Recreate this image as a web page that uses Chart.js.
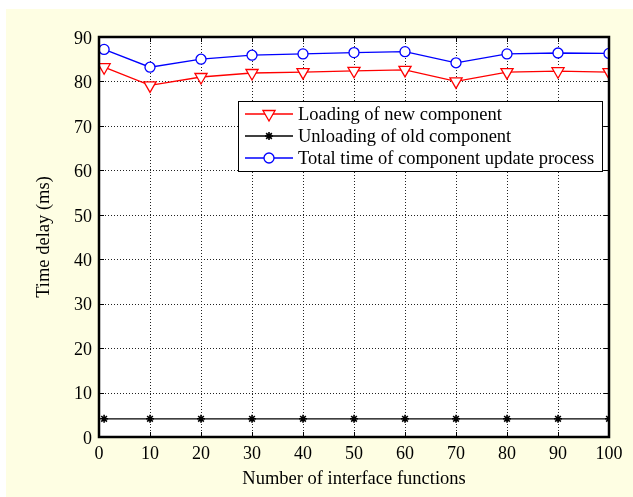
<!DOCTYPE html>
<html><head><meta charset="utf-8">
<script src="https://cdn.jsdelivr.net/npm/chart.js@4/dist/chart.umd.min.js"></script>
<style>html,body{margin:0;padding:0;background:#fff;overflow:hidden;}</style>
</head><body>
<canvas id="c" width="633" height="497" style="display:block;width:633px;height:497px"></canvas>
<script>
const xValues = [1, 10, 20, 30, 40, 50, 60, 70, 80, 90, 100];
const loadingNew = [83.2, 79.1, 81.0, 81.9, 82.1, 82.4, 82.6, 80.0, 82.1, 82.3, 82.1];
const unloadingOld = [4.1, 4.1, 4.1, 4.1, 4.1, 4.1, 4.1, 4.1, 4.1, 4.1, 4.1];
const totalTime = [87.2, 83.2, 85.0, 85.9, 86.2, 86.5, 86.7, 84.2, 86.2, 86.4, 86.3];
const xTicks = [0, 10, 20, 30, 40, 50, 60, 70, 80, 90, 100];
const yTicks = [0, 10, 20, 30, 40, 50, 60, 70, 80, 90];
const seriesNames = ['Loading of new component', 'Unloading of old component', 'Total time of component update process'];

const FONT = '"Liberation Serif", "Times New Roman", serif';
const BG = '#FEFEE3';

function pts(ys) { return xValues.map((x, i) => ({x: x, y: ys[i]})); }

function drawMarker(ctx, style, x, y, color) {
  ctx.save();
  ctx.strokeStyle = color; ctx.lineWidth = 1.3;
  ctx.beginPath();
  if (style === 'tri') {
    const r = 7;
    ctx.moveTo(x - r * 0.866, y - r * 0.5);
    ctx.lineTo(x + r * 0.866, y - r * 0.5);
    ctx.lineTo(x, y + r);
    ctx.closePath();
    ctx.fillStyle = '#fff'; ctx.fill();
  } else if (style === 'circ') {
    ctx.arc(x, y, 5, 0, Math.PI * 2);
    ctx.fillStyle = '#fff'; ctx.fill();
  } else {
    const r = 4;
    ctx.lineWidth = 1.6;
    ctx.moveTo(x - r, y); ctx.lineTo(x + r, y);
    ctx.moveTo(x, y - r); ctx.lineTo(x, y + r);
    const d = r * 0.707;
    ctx.moveTo(x - d, y - d); ctx.lineTo(x + d, y + d);
    ctx.moveTo(x - d, y + d); ctx.lineTo(x + d, y - d);
  }
  ctx.stroke();
  ctx.restore();
}

const framePlugin = {
  id: 'frame',
  beforeDraw(chart) {
    const ctx = chart.ctx;
    ctx.save();
    ctx.fillStyle = '#fff'; ctx.fillRect(0, 0, chart.width, chart.height);
    ctx.fillStyle = BG; ctx.fillRect(6, 9, chart.width - 6, chart.height - 9);
    const a = chart.chartArea;
    ctx.fillStyle = '#fff'; ctx.fillRect(a.left, a.top, a.right - a.left, a.bottom - a.top);
    ctx.restore();
  },
  beforeDatasetsDraw(chart) {
    const ctx = chart.ctx, a = chart.chartArea, sx = chart.scales.x, sy = chart.scales.y;
    ctx.save();
    ctx.strokeStyle = '#222'; ctx.lineWidth = 1; ctx.setLineDash([1, 2]);
    xTicks.forEach(v => {
      const px = Math.round(sx.getPixelForValue(v)) + 0.5;
      ctx.beginPath(); ctx.moveTo(px, a.top); ctx.lineTo(px, a.bottom); ctx.stroke();
    });
    yTicks.forEach(v => {
      const py = Math.round(sy.getPixelForValue(v)) + 0.5;
      ctx.beginPath(); ctx.moveTo(a.left, py); ctx.lineTo(a.right, py); ctx.stroke();
    });
    ctx.restore();
  },
  afterDatasetsDraw(chart) {
    const ctx = chart.ctx, a = chart.chartArea, sx = chart.scales.x, sy = chart.scales.y;
    ctx.save();
    ctx.strokeStyle = '#000'; ctx.lineWidth = 1;
    const tl = 5;
    xTicks.forEach(v => {
      const px = Math.round(sx.getPixelForValue(v)) + 0.5;
      ctx.beginPath();
      ctx.moveTo(px, a.bottom); ctx.lineTo(px, a.bottom - tl);
      ctx.moveTo(px, a.top); ctx.lineTo(px, a.top + tl);
      ctx.stroke();
    });
    yTicks.forEach(v => {
      const py = Math.round(sy.getPixelForValue(v)) + 0.5;
      ctx.beginPath();
      ctx.moveTo(a.left, py); ctx.lineTo(a.left + tl, py);
      ctx.moveTo(a.right, py); ctx.lineTo(a.right - tl, py);
      ctx.stroke();
    });
    ctx.lineWidth = 2.5;
    ctx.strokeRect(a.left, a.top, a.right - a.left, a.bottom - a.top);
    ctx.restore();
  },
  afterDraw(chart) {
    const ctx = chart.ctx;
    const bx = 238, by = 101, bw = 364, bh = 70;
    ctx.save();
    ctx.fillStyle = '#fff'; ctx.fillRect(bx, by, bw, bh);
    ctx.strokeStyle = '#000'; ctx.lineWidth = 1;
    ctx.strokeRect(bx + 0.5, by + 0.5, bw, bh);
    const rows = [114, 136, 158];
    const colors = ['#FF0000', '#000000', '#0000FF'];
    const styles = ['tri', 'star', 'circ'];
    ctx.font = '18.5px ' + FONT;
    ctx.textBaseline = 'middle'; ctx.textAlign = 'left';
    rows.forEach((y, i) => {
      ctx.strokeStyle = colors[i]; ctx.lineWidth = 1.3;
      ctx.beginPath(); ctx.moveTo(245, y); ctx.lineTo(293, y); ctx.stroke();
      drawMarker(ctx, styles[i], 269, y, colors[i]);
      ctx.fillStyle = '#000';
      ctx.fillText(seriesNames[i], 298, y + 1);
    });
    ctx.restore();
  }
};

new Chart(document.getElementById('c'), {
  type: 'line',
  data: {
    datasets: [
      {label: seriesNames[0], data: pts(loadingNew), borderColor: '#FF0000', backgroundColor: '#fff',
       borderWidth: 1.3, pointStyle: 'triangle', rotation: 180, pointRadius: 7, pointBorderWidth: 1.3, fill: false, tension: 0},
      {label: seriesNames[1], data: pts(unloadingOld), borderColor: '#000000', backgroundColor: '#000',
       borderWidth: 1.3, pointStyle: 'star', pointRadius: 4, pointBorderWidth: 1.6, fill: false, tension: 0},
      {label: seriesNames[2], data: pts(totalTime), borderColor: '#0000FF', backgroundColor: '#fff',
       borderWidth: 1.3, pointStyle: 'circle', pointRadius: 5, pointBorderWidth: 1.3, fill: false, tension: 0}
    ]
  },
  options: {
    responsive: false, animation: false,
    layout: {padding: {top: 37, right: 24, left: 0, bottom: 0}},
    plugins: {legend: {display: false}, tooltip: {enabled: false}},
    scales: {
      x: {
        type: 'linear', min: 0, max: 100,
        afterBuildTicks(s) { s.ticks = xTicks.map(v => ({value: v})); },
        afterFit(s) { s.height = 60; },
        grid: {display: false, drawTicks: false}, border: {display: false},
        ticks: {color: '#000', font: {family: FONT, size: 18}, padding: 6, maxRotation: 0},
        title: {display: true, text: 'Number of interface functions', color: '#000', font: {family: FONT, size: 18.5}, padding: {top: 0, bottom: 7}}
      },
      y: {
        type: 'linear', min: 0, max: 90,
        afterBuildTicks(s) { s.ticks = yTicks.map(v => ({value: v})); },
        afterFit(s) { s.width = 99; },
        grid: {display: false, drawTicks: false}, border: {display: false},
        ticks: {color: '#000', font: {family: FONT, size: 18}, padding: 7, labelOffset: 2},
        title: {display: true, text: 'Time delay (ms)', color: '#000', font: {family: FONT, size: 18.5}, padding: {top: 33, bottom: 0}}
      }
    }
  },
  plugins: [framePlugin]
});
</script>
</body></html>
